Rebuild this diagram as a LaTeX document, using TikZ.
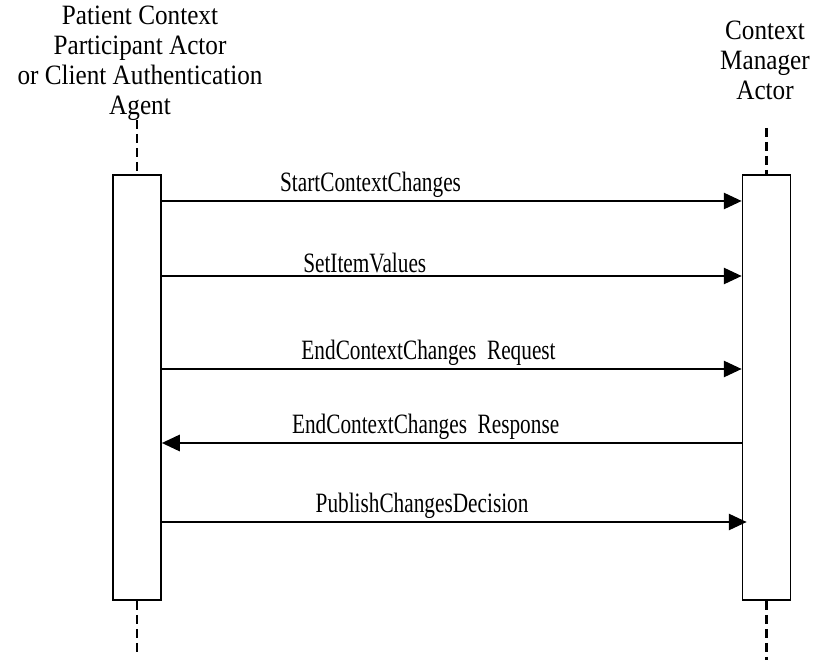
\documentclass[tikz,border=0pt]{standalone}
\usepackage{fontspec}
\setmainfont{Liberation Serif}
\newfontfamily\msgfont[FakeStretch=0.76]{Liberation Serif}
\newfontfamily\actfont[FakeStretch=0.9]{Liberation Serif}
\usetikzlibrary{shapes, arrows.meta}

\begin{document}
\begin{tikzpicture}[x=1pt, y=-1pt]
		\tikzstyle{actor} = [align=center, font=\actfont\fontsize{28}{30}\selectfont, inner sep=0pt]
		\tikzstyle{lifebox} = [rectangle, draw, line width=1.5pt, minimum width=48pt, minimum height=425pt, inner sep=0pt]
		\tikzstyle{lifeline} = [draw, line width=2.5pt, dash pattern=on 9pt off 5pt]
		\tikzstyle{connector} = [draw, line width=2.8pt, -{Triangle[length=18pt, width=16pt]}]
		\tikzstyle{msg} = [font=\msgfont\fontsize{28}{30}\selectfont, above=2pt, inner sep=0pt]
		\useasboundingbox (0,0) rectangle (817,660);
		\node [actor] at (140,63) (client) {Patient Context\\Participant Actor\\or Client Authentication\\Agent};
		\node [actor] at (765,60) (manager) {Context\\Manager\\Actor};
		\node [lifebox] at (137,387.5) (boxL) {};
		\node [lifebox] at (766.5,387.5) (boxR) {};
		\coordinate (topL) at (137,120);
		\coordinate (botL) at (137,655);
		\coordinate (topR) at (766.5,128);
		\coordinate (botR) at (766.5,660);
		\path [lifeline] (topL) -- (boxL.north);
		\path [lifeline] (boxL.south) -- (botL);
		\path [lifeline] (topR) -- (boxR.north);
		\path [lifeline] (boxR.south) -- (botR);
		\coordinate (m1) at (0,201);
		\coordinate (m2) at (0,276);
		\coordinate (m3) at (0,369);
		\coordinate (m4) at (0,443);
		\coordinate (m5) at (0,522);
		\path [connector] (boxL.east |- m1) -- node [msg, pos=0.36] {StartContextChanges} (boxR.west |- m1);
		\path [connector] (boxL.east |- m2) -- node [msg, pos=0.35] {SetItemValues} (boxR.west |- m2);
		\path [connector] (boxL.east |- m3) -- node [msg, pos=0.46] {EndContextChanges\ \ Request} (boxR.west |- m3);
		\path [connector] (boxR.west |- m4) -- node [msg, pos=0.545] {EndContextChanges\ \ Response} (boxL.east |- m4);
		\path [connector] (boxL.east |- m5) -- node [msg, pos=0.445] {PublishChangesDecision} ([xshift=5pt]boxR.west |- m5);
	\end{tikzpicture}
\end{document}
